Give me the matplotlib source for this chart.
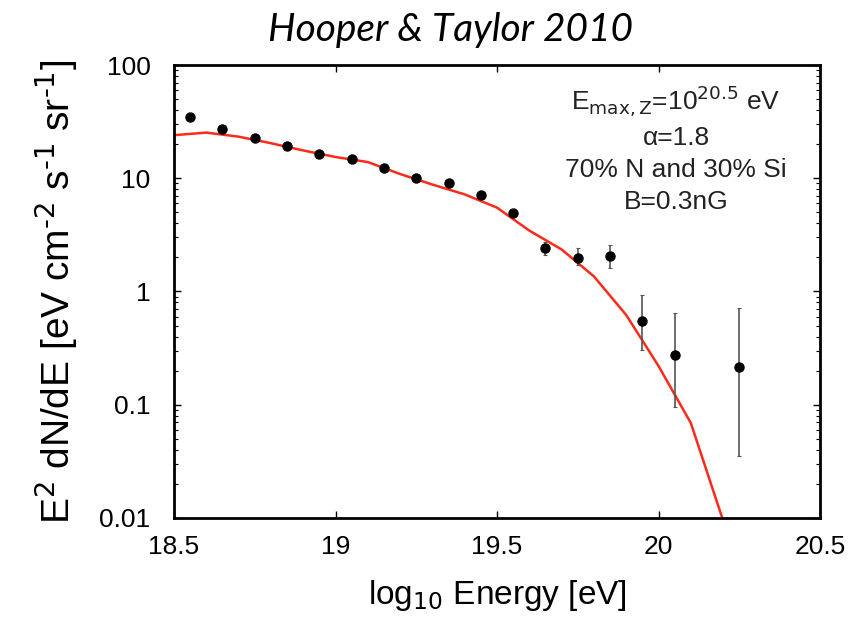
import numpy as np
import matplotlib
matplotlib.use("Agg")
import matplotlib.pyplot as plt
from matplotlib.ticker import LogLocator, NullFormatter, FixedLocator

# Measured flux points: log10(E/eV), E^2 dN/dE and error bar ends
log_e = [18.55, 18.65, 18.75, 18.85, 18.95, 19.05, 19.15, 19.25, 19.35,
         19.45, 19.55, 19.65, 19.75, 19.85, 19.95, 20.05, 20.25]
flux = [34.9, 27.2, 22.7, 19.2, 16.5, 14.9, 12.4, 10.1, 9.1,
        7.08, 4.93, 2.42, 1.97, 2.04, 0.546, 0.275, 0.217]
flux_hi = [34.9, 27.2, 22.7, 19.2, 16.5, 14.9, 12.4, 10.1, 9.1,
           7.08, 4.93, 2.74, 2.44, 2.6, 0.935, 0.648, 0.718]
flux_lo = [34.9, 27.2, 22.7, 19.2, 16.5, 14.9, 12.4, 10.1, 9.1,
           7.08, 4.93, 2.08, 1.70, 1.6, 0.305, 0.096, 0.0354]

# Model spectrum
model_log_e = [18.5, 18.6, 18.7, 18.8, 18.9, 19.0, 19.1, 19.2, 19.3, 19.4,
               19.5, 19.6, 19.7, 19.8, 19.9, 20.0, 20.1, 20.2]
model_flux = [24.0, 25.3, 23.3, 20.4, 17.6, 15.4, 13.9, 10.9, 8.8, 7.2,
              5.5, 3.45, 2.35, 1.36, 0.62, 0.22, 0.069, 0.0095]

x_ticks = [18.5, 19, 19.5, 20, 20.5]
x_tick_labels = ["18.5", "19", "19.5", "20", "20.5"]
y_ticks = [0.01, 0.1, 1, 10, 100]
y_tick_labels = ["0.01", "0.1", "1", "10", "100"]

plt.rcParams["font.family"] = ["Liberation Sans", "DejaVu Sans"]

fig = plt.figure(figsize=(8.59, 6.33), dpi=100)
ax = fig.add_axes([0.2026, 0.1817, 0.752, 0.7156])

flux_arr = np.array(flux)
yerr = np.array([flux_arr - np.array(flux_lo), np.array(flux_hi) - flux_arr])
ax.errorbar(log_e, flux, yerr=yerr, fmt="o", color="black", ms=6.5,
            ecolor="#555555", elinewidth=1.2, capsize=1.5, capthick=0.8, zorder=3)
ax.plot(model_log_e, model_flux, color="#ff2a1a", lw=1.8, zorder=2)

ax.set_yscale("log")
ax.set_xlim(18.5, 20.5)
ax.set_ylim(0.01, 100)
ax.xaxis.set_major_locator(FixedLocator(x_ticks))
ax.set_xticklabels(x_tick_labels)
ax.yaxis.set_major_locator(FixedLocator(y_ticks))
ax.set_yticklabels(y_tick_labels)
ax.yaxis.set_minor_locator(LogLocator(base=10, subs=np.arange(2, 10)))
ax.yaxis.set_minor_formatter(NullFormatter())

ax.tick_params(which="both", direction="in", top=True, right=True,
               labelsize=19, colors="black")
ax.tick_params(which="major", length=5, width=1.0)
ax.tick_params(which="minor", length=3, width=0.8)
ax.xaxis.set_tick_params(which="major", pad=12)
ax.yaxis.set_tick_params(which="major", pad=17)
for s in ax.spines.values():
    s.set_linewidth(2.0)

ax.set_xlabel(r"log$_{10}$ Energy [eV]", fontsize=24, labelpad=14)
ax.set_ylabel(r"E$^{2}$ dN/dE [eV cm$^{\text{-}2}$ s$^{\text{-}1}$ sr$^{\text{-}1}$]",
              fontsize=28, labelpad=14)

ax.text(0.777, 0.960, r"E$_{\rm max,Z}$=10$^{20.5}$ eV" + "\nα=1.8\n"
        + "70% N and 30% Si\nB=0.3nG",
        transform=ax.transAxes, ha="center", va="top", fontsize=19,
        linespacing=1.42, color="#222222")

fig.text(0.524, 0.952, "Hooper & Taylor 2010", ha="center", va="center",
         fontsize=28, style="italic", family=["Lato", "DejaVu Sans"])

fig.savefig("out.png", dpi=100)
